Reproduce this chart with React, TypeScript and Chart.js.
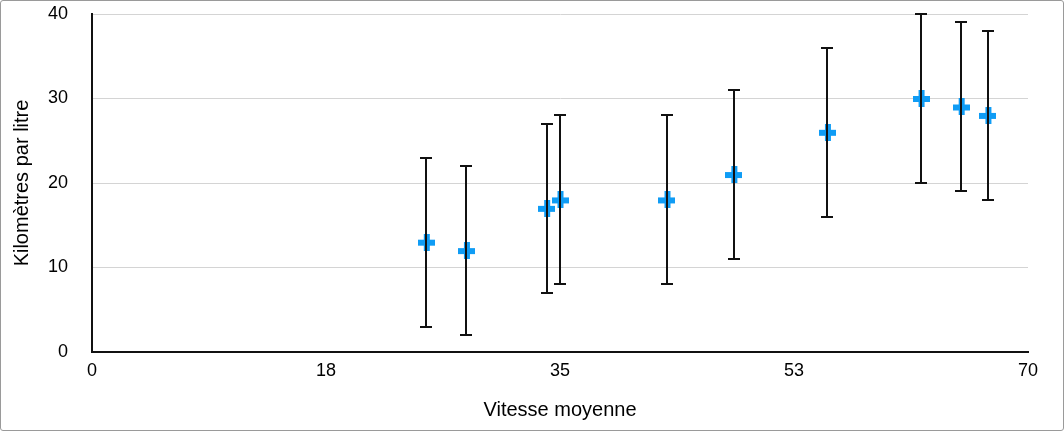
import React, { useEffect, useRef } from "react";
import { Chart, registerables } from "chart.js";

Chart.register(...registerables);

const speeds = [25, 28, 34, 35, 43, 48, 55, 62, 65, 67];
const kmPerLitre = [13, 12, 17, 18, 18, 21, 26, 30, 29, 28];
const errorPlus = [10, 10, 10, 10, 10, 10, 10, 10, 10, 10];
const errorMinus = [10, 10, 10, 10, 10, 10, 10, 10, 10, 10];
const xTickValues = [0, 17.5, 35, 52.5, 70];
const xTickLabels = ["0", "18", "35", "53", "70"];
const yTickValues = [0, 10, 20, 30, 40];
const xTitle = "Vitesse moyenne";
const yTitle = "Kilomètres par litre";

const FONT = "'Liberation Sans', Helvetica, Arial, sans-serif";
const BLUE = "#0f9cf5";

function makePlus(): HTMLCanvasElement {
  const size = 17;
  const thick = 6;
  const c = document.createElement("canvas");
  c.width = size;
  c.height = size;
  const g = c.getContext("2d")!;
  g.fillStyle = BLUE;
  const o = Math.round((size - thick) / 2);
  g.fillRect(0, o, size, thick);
  g.fillRect(o, 0, thick, size);
  return c;
}

const errorBarPlugin = {
  id: "errorBars",
  afterDatasetsDraw(chart: any) {
    const ctx = chart.ctx;
    const xs = chart.scales.x;
    const ys = chart.scales.y;
    ctx.save();
    ctx.strokeStyle = "#111";
    ctx.lineWidth = 2;
    const cap = 6;
    speeds.forEach((sx, i) => {
      const px = Math.round(xs.getPixelForValue(sx));
      const top = Math.round(ys.getPixelForValue(kmPerLitre[i] + errorPlus[i]));
      const bot = Math.round(ys.getPixelForValue(kmPerLitre[i] - errorMinus[i]));
      ctx.beginPath();
      ctx.moveTo(px, top);
      ctx.lineTo(px, bot);
      ctx.moveTo(px - cap, top);
      ctx.lineTo(px + cap, top);
      ctx.moveTo(px - cap, bot);
      ctx.lineTo(px + cap, bot);
      ctx.stroke();
    });
    ctx.restore();
  },
};

export default function App() {
  const ref = useRef<HTMLCanvasElement | null>(null);

  useEffect(() => {
    if (!ref.current) return;
    const plus = makePlus();
    const chart = new Chart(ref.current, {
      type: "scatter",
      data: {
        datasets: [
          {
            data: speeds.map((x, i) => ({ x, y: kmPerLitre[i] })),
            pointStyle: plus as any,
            pointRadius: 9,
            backgroundColor: BLUE,
            borderColor: BLUE,
          },
        ],
      },
      plugins: [errorBarPlugin],
      options: {
        animation: false,
        responsive: false,
        maintainAspectRatio: false,
        devicePixelRatio: 1,
        layout: { padding: { top: 14, right: 36, bottom: 0, left: 0 } },
        plugins: {
          legend: { display: false },
          tooltip: { enabled: false },
        },
        scales: {
          x: {
            type: "linear",
            min: 0,
            max: 70,
            afterBuildTicks: (s: any) => {
              s.ticks = xTickValues.map((v) => ({ value: v }));
            },
            afterFit: (s: any) => {
              s.height = 79;
              s.paddingLeft = 0;
              s.paddingRight = 0;
            },
            ticks: {
              padding: 8,
              color: "#000",
              font: { family: FONT, size: 18 },
              maxRotation: 0,
              callback: (v: any) => {
                const i = xTickValues.indexOf(Number(v));
                return i >= 0 ? xTickLabels[i] : "";
              },
            },
            grid: { display: false, drawTicks: false },
            border: { display: true, color: "#111", width: 2 },
            title: {
              display: true,
              text: xTitle,
              color: "#000",
              font: { family: FONT, size: 20 },
              padding: { top: 0, bottom: 9 },
            },
          },
          y: {
            type: "linear",
            min: 0,
            max: 40,
            afterBuildTicks: (s: any) => {
              s.ticks = yTickValues.map((v) => ({ value: v }));
            },
            afterFit: (s: any) => {
              s.width = 92;
              s.paddingTop = 0;
              s.paddingBottom = 0;
            },
            ticks: {
              padding: 24,
              color: "#000",
              font: { family: FONT, size: 18 },
            },
            grid: { color: "#d4d4d4", lineWidth: 1, drawTicks: false },
            border: { display: true, color: "#111", width: 2 },
            title: {
              display: true,
              text: yTitle,
              color: "#000",
              font: { family: FONT, size: 20 },
              padding: { top: 10, bottom: 0 },
            },
          },
        },
      },
    });
    return () => chart.destroy();
  }, []);

  return (
    <div
      style={{
        position: "fixed",
        left: 0,
        top: 0,
        width: 1064,
        height: 431,
        background: "#fff",
      }}
    >
      <canvas ref={ref} width={1064} height={431} style={{ display: "block" }} />
      <div
        style={{
          position: "absolute",
          left: 0,
          top: 0,
          width: 1064,
          height: 431,
          boxSizing: "border-box",
          border: "1px solid #9a9a9a",
          borderRadius: 3,
          pointerEvents: "none",
        }}
      />
    </div>
  );
}
